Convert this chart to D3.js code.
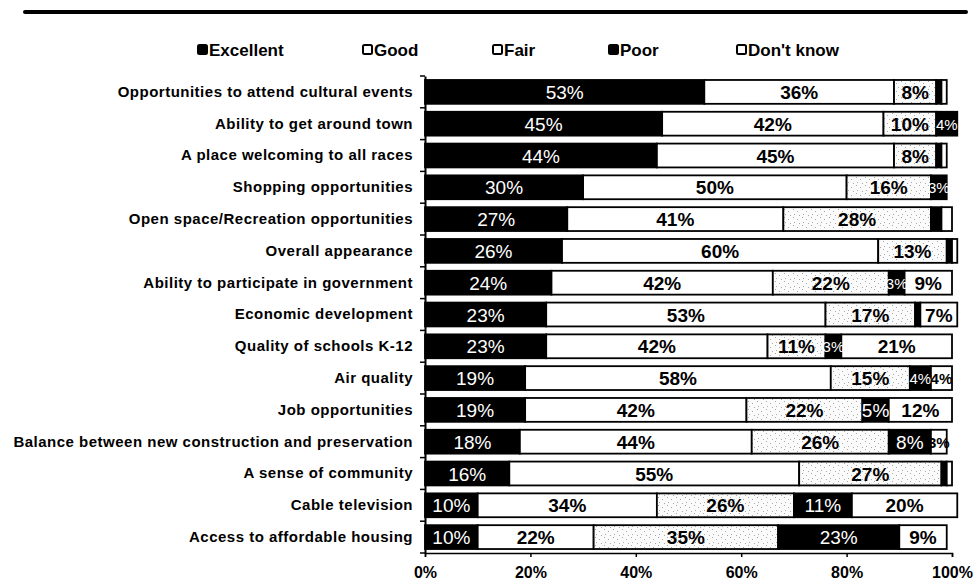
<!DOCTYPE html>
<html lang="en">
<head>
<meta charset="utf-8">
<title>Ratings</title>
<script src="https://d3js.org/d3.v7.min.js"></script>
<style>
  body { margin: 0; background: #fff; }
  text { font-family: "Liberation Sans", Arial, sans-serif; }
</style>
</head>
<body>
<script>
var w = 974, h = 586;

// data
var categories = [
  "Opportunities to attend cultural events",
  "Ability to get around town",
  "A place welcoming to all races",
  "Shopping opportunities",
  "Open space/Recreation opportunities",
  "Overall appearance",
  "Ability to participate in government",
  "Economic development",
  "Quality of schools K-12",
  "Air quality",
  "Job opportunities",
  "Balance between new construction and preservation",
  "A sense of community",
  "Cable television",
  "Access to affordable housing"
];
var seriesNames = ["Excellent", "Good", "Fair", "Poor", "Don't know"];
var excellent = [53, 45, 44, 30, 27, 26, 24, 23, 23, 19, 19, 18, 16, 10, 10];
var good      = [36, 42, 45, 50, 41, 60, 42, 53, 42, 58, 42, 44, 55, 34, 22];
var fair      = [8, 10, 8, 16, 28, 13, 22, 17, 11, 15, 22, 26, 27, 26, 35];
var poor      = [1, 4, 1, 3, 2, 1, 3, 1, 3, 4, 5, 8, 1, 11, 23];
var dontKnow  = [1, 0, 1, 0, 2, 1, 9, 7, 21, 4, 12, 3, 1, 20, 9];
var tickValues = [0, 20, 40, 60, 80, 100];

var series = [excellent, good, fair, poor, dontKnow];
var fills = ["#000", "#fff", "url(#stipple)", "#000", "#fff"];
var labelColor = ["#fff", "#000", "#000", "#fff", "#000"];
var labelWeight = ["normal", "bold", "bold", "normal", "bold"];

var svg = d3.select("body").append("svg")
  .attr("width", w).attr("height", h);

// speckled fill for "Fair"
var pat = svg.append("defs").append("pattern")
  .attr("id", "stipple").attr("width", 9).attr("height", 8)
  .attr("patternUnits", "userSpaceOnUse");
pat.append("rect").attr("width", 9).attr("height", 8).attr("fill", "#fbfbfb");
[[1, 1], [5, 3], [2, 6], [7, 7]].forEach(function(p) {
  pat.append("rect").attr("x", p[0]).attr("y", p[1])
    .attr("width", 1).attr("height", 1).attr("fill", "#a8a8a8");
});

// heavy top rule
svg.append("line")
  .attr("x1", 25).attr("x2", 966).attr("y1", 12).attr("y2", 12)
  .attr("stroke", "#000").attr("stroke-width", 4).attr("stroke-linecap", "round");

var x = d3.scaleLinear().domain([0, 100]).range([425, 952]);
var y = d3.scaleBand().domain(categories).range([76, 553]).paddingInner(0.25).paddingOuter(0.125);

// legend
var legendX = [198, 363, 493, 609, 737];
var legend = svg.append("g").selectAll("g")
  .data(seriesNames).enter().append("g")
  .attr("transform", function(d, i) { return "translate(" + legendX[i] + ",50)"; });
legend.append("rect")
  .attr("x", 0).attr("y", -5).attr("width", 9).attr("height", 9).attr("rx", 1.5)
  .attr("fill", function(d, i) { return i == 0 || i == 3 ? "#000" : "#fff"; })
  .attr("stroke", "#000").attr("stroke-width", 2);
legend.append("text")
  .attr("x", 11).attr("y", 6)
  .style("font-size", "17px").style("font-weight", "bold")
  .text(function(d) { return d; });

// stack rows
var rows = categories.map(function(c, i) {
  var start = 0;
  return series.map(function(s, k) {
    var seg = { cat: c, k: k, x0: start, x1: start + s[i], v: s[i] };
    start += s[i];
    return seg;
  });
});

var rowG = svg.append("g").selectAll("g")
  .data(rows).enter().append("g");

rowG.selectAll("rect")
  .data(function(d) { return d.filter(function(s) { return s.v > 0; }); })
  .enter().append("rect")
  .attr("x", function(d) { return x(d.x0); })
  .attr("y", function(d) { return y(d.cat); })
  .attr("width", function(d) { return x(d.x1) - x(d.x0); })
  .attr("height", y.bandwidth())
  .attr("fill", function(d) { return fills[d.k]; })
  .attr("stroke", "#000").attr("stroke-width", 1.8);

rowG.selectAll("text")
  .data(function(d) { return d.filter(function(s) { return s.v >= 3; }); })
  .enter().append("text")
  .attr("x", function(d) { return (x(d.x0) + x(d.x1)) / 2; })
  .attr("y", function(d) { return y(d.cat) + y.bandwidth() / 2 + (d.v <= 4 ? 6 : 7); })
  .attr("text-anchor", "middle")
  .style("font-size", function(d) { return d.v <= 4 ? "15px" : "19px"; })
  .style("font-weight", function(d) { return labelWeight[d.k]; })
  .attr("fill", function(d) { return labelColor[d.k]; })
  .text(function(d) { return d.v + "%"; });

// category axis
var yAxis = svg.append("g")
  .attr("transform", "translate(425,0)")
  .call(d3.axisLeft(y).tickSize(0).tickPadding(12));
yAxis.select(".domain").attr("stroke", "#000").attr("stroke-width", 2);
yAxis.selectAll("text")
  .style("font-size", "15px").style("font-weight", "bold")
  .style("letter-spacing", "0.5px").attr("fill", "#000");
// small boundary ticks between categories
svg.append("g").selectAll("line")
  .data(d3.range(categories.length + 1)).enter().append("line")
  .attr("x1", 420).attr("x2", 425)
  .attr("y1", function(i) { return 76 + i * y.step(); })
  .attr("y2", function(i) { return 76 + i * y.step(); })
  .attr("stroke", "#000").attr("stroke-width", 1.5);

// value axis
var xAxis = svg.append("g")
  .attr("transform", "translate(0,553)")
  .call(d3.axisBottom(x).tickValues(tickValues).tickSize(4).tickPadding(10)
    .tickFormat(function(d) { return d + "%"; }));
xAxis.select(".domain").attr("stroke", "#000").attr("stroke-width", 1.5);
xAxis.selectAll("line").attr("stroke", "#000").attr("stroke-width", 1.5);
xAxis.selectAll("text")
  .style("font-size", "16px").style("font-weight", "bold").attr("fill", "#000");
</script>
</body>
</html>
